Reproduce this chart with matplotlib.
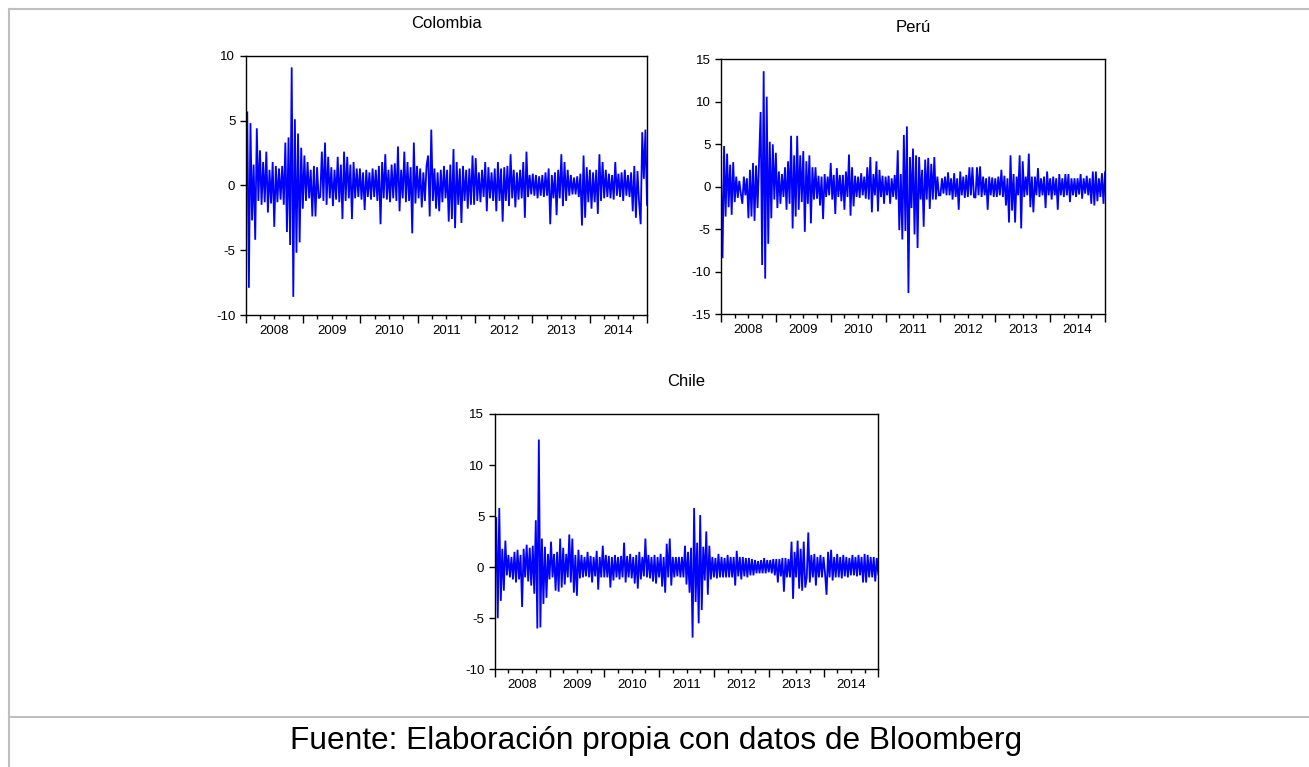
import numpy as np
import matplotlib
matplotlib.use("Agg")
import matplotlib.pyplot as plt
from matplotlib import font_manager
from matplotlib.lines import Line2D

# daily returns (approx. 36 readings per year, 2008-2014)
colombia = [
    -2.0, 5.7, -7.9, 4.8, -2.7, 1.6, -4.2, 4.4, -1.2, 2.7, -1.5, 1.8, -1.3, 2.6, -2.1, 1.2, -1.4, 1.8,
    -3.2, 1.5, -1.3, 1.3, -1.1, 1.5, -1.5, 3.3, -3.6, 3.7, -4.6, 9.1, -8.6, 5.1, -5.2, 4.0, -4.4, 2.9, -1.8,
    2.3, -1.2, 1.8, -1.0, 1.2, -2.4, 1.5, -2.4, 1.4, -1.0, -0.9, 2.6, -1.2, 3.3, -1.5, 2.2, -1.0, 1.4,
    -1.6, 1.2, -1.1, 2.2, -1.3, 1.6, -2.6, 2.6, -1.2, 2.2, -1.0, 1.6, -2.6, 1.8, -1.0, 1.3, -0.9, 1.3,
    -1.1, 1.0, -1.9, 1.2, -0.9, 1.0, -1.1, 1.3, -0.9, 1.2, -1.2, 1.5, -3.0, 1.8, -1.0, 2.4, -1.1, 1.2,
    -1.3, 1.6, -1.0, 1.7, -1.2, 3.0, -2.0, 1.2, -1.0, 2.6, -1.3, 1.8, -1.2, 1.4, -3.7, 3.3, -1.4, 1.5,
    -1.0, 1.3, -1.7, 1.0, -1.2, 1.5, 2.3, -2.4, 4.3, -1.2, 1.3, -1.8, 1.0, -2.0, 1.2, -1.3, 1.5, -1.0,
    1.2, -2.8, 1.6, -2.6, 2.8, -3.3, 1.8, -1.5, 1.3, -2.9, 1.5, -1.2, 1.2, -1.8, 1.3, -1.5, 2.3, -1.5,
    2.1, -1.2, 1.0, -1.3, 1.2, -0.9, 1.8, -2.0, 1.4, -1.0, 1.0, -1.2, 1.3, -2.0, 1.8, -1.2, 1.3, -2.8,
    1.4, -1.2, 1.5, -1.6, 2.4, -1.0, 1.2, -1.7, 1.0, -1.1, 1.2, -1.0, 1.8, -2.5, 2.6, -0.9, 0.8, -0.7,
    0.9, -0.8, 0.8, -1.0, 0.7, -0.8, 0.8, -0.9, 1.0, -0.8, 1.3, -3.0, 0.8, -1.0, 1.0, -2.3, 1.2, -1.0,
    2.4, -1.6, 1.8, -1.2, 1.2, -0.8, 0.8, -0.7, 0.6, -0.7, 0.7, -0.9, 0.9, -3.1, 2.3, -2.5, 1.4, -1.3,
    1.2, -1.8, 1.0, -1.3, 1.2, -2.2, 2.4, -1.2, 1.8, -1.0, 1.2, -0.9, 0.9, -1.0, 0.8, -1.1, 1.8, -0.8,
    0.9, -0.9, 1.0, -1.2, 1.2, -0.8, 0.8, -0.9, 1.0, -2.0, 1.5, -2.5, 1.1, -1.3, -3.0, 4.1, 0.5, 4.3, -1.5,
]
peru = [
    2.0, -8.4, 4.8, -3.5, 3.9, -2.4, 2.6, -3.3, 2.9, -1.8, 1.2, -1.3, 0.7, -0.8, -2.0, 1.2, -1.0, 1.0,
    -3.7, 2.0, -3.5, 2.8, -4.0, 2.5, -2.5, 3.3, 8.8, -9.2, 13.6, -10.8, 10.6, -6.7, 5.3, -3.7, 5.0, -1.5,
    4.0, -2.5, 1.8, -2.0, 1.5, -1.2, 2.3, -2.7, 3.0, -2.0, 6.0, -4.9, 3.7, -3.5, 6.0, -2.7, 3.7, -1.8,
    4.2, -5.3, 3.0, -2.0, 3.7, -4.3, 2.3, -1.5, 2.3, -1.4, 1.3, -2.2, 1.2, -3.8, 1.5, -1.2, 1.2, -1.0,
    2.8, -1.5, 1.4, -3.2, 2.2, -1.2, 1.4, -1.7, 1.4, -2.7, 1.8, -1.2, 3.8, -3.4, 2.3, -2.3, 1.3, -1.2,
    1.2, -1.3, 1.6, -1.0, 1.2, -1.4, 2.3, -1.5, 3.5, -3.0, 1.5, -1.0, 3.0, -2.9, 2.0, -1.2, 1.3, -2.0,
    1.2, -1.0, 1.3, -2.0, 1.0, -1.2, 1.4, -1.5, 4.3, -5.1, 1.5, -6.2, 6.1, -5.2, 7.1, -12.5, 3.5, -2.5,
    4.5, -5.6, 3.7, -7.2, 3.5, -1.5, 2.0, -4.7, 3.2, -1.5, 3.4, -2.6, 2.7, -1.5, 3.5, -1.5, 1.2, -1.0,
    -1.0, 1.0, -0.8, 1.2, -1.0, 1.7, -1.0, 1.0, -1.5, 1.6, -1.2, 1.0, -2.7, 1.8, -1.0, 1.2, -1.3, 1.4,
    -1.2, 2.3, -1.0, 2.3, -1.2, -1.3, 2.3, -1.0, 2.4, -1.2, 1.2, -1.0, 1.0, -2.7, 1.2, -1.0, 1.1, -1.2,
    1.0, -1.2, 1.2, -1.0, 2.0, -1.2, 1.3, -2.2, 1.0, -4.2, 3.7, -2.8, 1.5, -4.2, 1.2, -1.0, 3.7, -4.9,
    3.0, -1.2, 1.2, -1.0, 3.9, -2.4, 1.2, -3.0, 1.2, -1.0, 2.2, -1.2, 1.0, -1.0, 1.2, -2.5, 1.8, -1.0,
    1.0, -1.5, 1.2, -1.0, 1.0, -2.7, 1.5, -1.0, 1.0, -1.2, 1.5, -1.0, 1.5, -1.8, 1.0, -1.0, 1.0, -1.2,
    1.0, -0.9, 1.5, -1.4, 1.0, -0.8, 1.3, -1.0, 1.0, -2.0, 1.8, -2.2, 1.8, -1.7, 1.0, -1.2, 1.6, -2.0, 1.7,
]
chile = [
    -2.8, 4.9, -5.0, 5.8, -3.3, 1.8, -2.3, 2.6, -0.8, 1.2, -1.0, 1.0, -1.2, 1.5, -1.5, 1.7, -1.2, 1.2,
    -3.9, 1.8, -1.0, 2.2, -1.4, 1.9, -1.8, 2.1, -2.6, 4.6, -6.0, 12.5, -5.9, 2.8, -3.6, 2.0, -3.0, 1.3,
    -1.2, 2.5, -1.0, 1.3, -2.3, 1.5, -2.4, 2.8, -2.0, 1.9, -1.7, 1.3, -1.0, 3.2, -1.5, 2.8, -2.5, 1.2,
    -2.8, 1.7, -1.1, 1.2, -1.0, 1.0, -0.9, 1.5, -1.0, 1.1, -1.5, 1.0, -0.9, 1.6, -2.2, 1.0, -1.0, 2.1,
    -1.0, 1.2, -1.0, 1.1, -2.0, 1.0, -1.3, 1.2, -1.0, 1.0, -1.2, 1.1, -1.0, 2.4, -1.5, 1.1, -1.0, 1.3,
    -1.1, 1.0, -1.6, 1.2, -2.1, 1.5, -1.2, 1.0, -0.9, 2.8, -1.0, 1.2, -1.1, 1.0, -1.4, 1.2, -1.6, 1.0,
    -1.0, 1.3, -1.9, 1.0, -2.5, 2.3, -1.0, 2.8, -1.8, 1.0, -1.0, 1.0, -0.9, 1.0, -1.0, 1.0, -1.0, 2.1,
    -1.7, 1.5, -2.5, 1.9, -6.9, 5.8, -3.4, 2.4, -5.5, 5.1, -4.2, 2.0, -1.3, 3.5, -2.7, 2.1, -1.2, 1.0,
    -1.0, 0.9, -1.1, 1.3, -1.0, 1.0, -1.0, 0.9, -1.0, 1.2, -1.0, 1.0, -1.0, 1.0, -1.8, 1.6, -0.9, 1.0,
    -1.2, 1.0, -0.9, 0.9, -1.0, 0.9, -0.8, 0.8, -0.8, 0.7, -0.6, 0.6, -0.6, 0.7, -0.6, 0.9, -0.6, 0.7,
    -0.5, 0.7, -0.6, 0.8, -0.8, 0.8, -1.5, 0.8, -0.9, 0.9, -2.4, 0.9, -1.0, 0.8, -1.0, 2.5, -3.1, 1.5,
    -1.0, 2.6, -2.1, 1.8, -2.3, 2.5, -2.0, -1.0, 3.4, -1.5, 1.2, -1.0, 1.3, -1.8, 1.0, -1.0, 1.2, -1.0,
    1.0, -0.6, -2.7, 1.5, -1.0, 1.7, -1.3, 1.0, -1.0, 1.3, -1.0, 1.0, -1.1, 1.2, -0.9, 1.0, -1.0, 0.9,
    -0.8, 1.2, -0.8, 1.0, -0.9, 1.2, -0.8, 1.0, -1.5, 1.3, -1.5, 1.2, -1.0, 1.0, -1.0, 1.0, -1.4, 0.9, -0.7,
]
years = [2008, 2009, 2010, 2011, 2012, 2013, 2014]
W, H = 1309, 767

names = {f.name for f in font_manager.fontManager.ttflist}
if "Liberation Sans Narrow" in names:
    chart_font = "Liberation Sans Narrow"
    tick_fs, title_fs = 11.8, 14.5
else:
    chart_font = "Liberation Sans"
    tick_fs, title_fs = 9.5, 12
plt.rcParams["font.family"] = [chart_font, "DejaVu Sans"]
plt.rcParams["axes.unicode_minus"] = False

fig = plt.figure(figsize=(W / 100, H / 100), dpi=100)


def panel(box, series, title, yticks):
    l, t, r, b = box
    ax = fig.add_axes([l / W, 1 - b / H, (r - l) / W, (b - t) / H])
    x = np.linspace(2008, 2015, len(series))
    ax.plot(x, series, color="#0000ff", lw=1.3, solid_joinstyle="miter")
    ax.set_xlim(2008, 2015)
    ax.set_ylim(yticks[0], yticks[-1])
    ax.set_yticks(yticks)
    ax.set_yticklabels([str(v) for v in yticks])
    ax.set_xticks(list(range(2008, 2016)))
    ax.set_xticklabels([])
    q = [y + f for y in years for f in (0.25, 0.5, 0.75)]
    ax.set_xticks(q, minor=True)
    ax.set_xticklabels([str(int(v)) if v % 1 == 0.5 else "" for v in q], minor=True)
    ax.tick_params(axis="x", which="major", length=5.5, width=1, direction="out")
    ax.tick_params(axis="x", which="minor", length=3, width=1, direction="out", pad=4,
                   labelsize=tick_fs)
    ax.tick_params(axis="y", length=4.5, width=1, direction="out", pad=3, labelsize=tick_fs)
    for s in ax.spines.values():
        s.set_linewidth(1.0)
    ax.set_title(title, fontsize=title_fs, pad=20)
    return ax


panel((245.7, 55.7, 647, 315), colombia, "Colombia", [-10, -5, 0, 5, 10])
panel((721, 59.3, 1105, 314.3), peru, "Perú", [-15, -10, -5, 0, 5, 10, 15])
panel((494.7, 414, 878.3, 669.3), chile, "Chile", [-10, -5, 0, 5, 10, 15])

# table frame around the figure
gray = "#bfbfbf"
for xs, ys in [((9, W), (9, 9)), ((9, 9), (9, H)), ((9, W), (717, 717))]:
    fig.add_artist(Line2D([v / W for v in xs], [1 - v / H for v in ys],
                          transform=fig.transFigure, color=gray, lw=1.5))

fig.text(656 / W, 1 - 741 / H, "Fuente: Elaboración propia con datos de Bloomberg",
         ha="center", va="center", fontsize=22.8, family=["Liberation Sans", "DejaVu Sans"])

fig.savefig("out.png", dpi=100)
